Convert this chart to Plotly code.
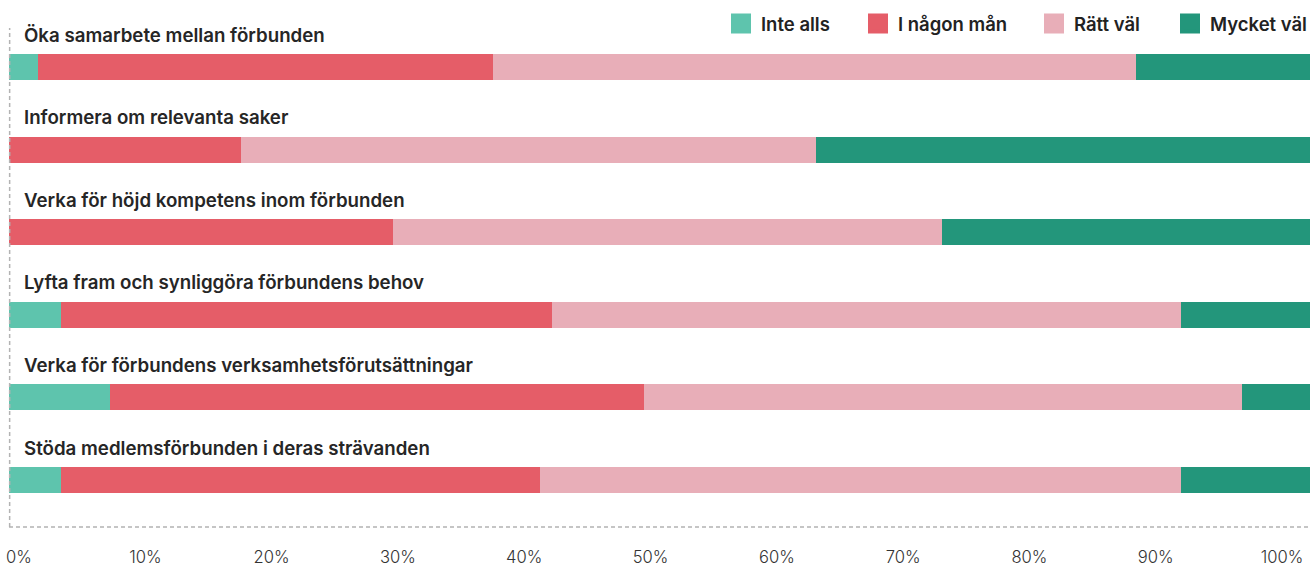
import plotly.graph_objects as go

categories = [
    "Öka samarbete mellan förbunden",
    "Informera om relevanta saker",
    "Verka för höjd kompetens inom förbunden",
    "Lyfta fram och synliggöra förbundens behov",
    "Verka för förbundens verksamhetsförutsättningar",
    "Stöda medlemsförbunden i deras strävanden",
]
inte_alls = [2.2, 0.0, 0.0, 4.0, 7.8, 4.0]
i_nagon_man = [35.0, 17.8, 29.5, 37.7, 41.0, 36.8]
ratt_val = [49.4, 44.2, 42.2, 48.4, 46.0, 49.3]
mycket_val = [13.4, 38.0, 28.3, 9.9, 5.2, 9.9]

series_names = ["Inte alls", "I någon mån", "Rätt väl", "Mycket väl"]
series_values = [inte_alls, i_nagon_man, ratt_val, mycket_val]
series_colors = ["#5EC4AD", "#E55D68", "#E8AEB8", "#23967B"]

tick_values = [0, 10, 20, 30, 40, 50, 60, 70, 80, 90, 100]
tick_labels = [f"{v}%" for v in tick_values]

FONT = "Inter"
W, H = 1311, 566
ML, MR, MT, MB = 9, 1, 28, 39
PW = W - ML - MR
PH = H - MT - MB

# pixel left edge of each legend square in the reference
legend_square_left = [734, 871, 1047, 1183]

fig = go.Figure()
for name, vals, col in zip(series_names, series_values, series_colors):
    fig.add_trace(go.Bar(
        x=vals, y=categories, orientation="h", name=name,
        marker=dict(color=col, line=dict(width=0)),
        width=0.315, showlegend=False,
        hovertemplate="%{y}<br>" + name + ": %{x:.1f}%<extra></extra>",
    ))
# legend entries, one legend each so spacing can follow the reference
legend_layouts = {}
for i, (name, col) in enumerate(zip(series_names, series_colors)):
    lname = "legend" if i == 0 else f"legend{i + 1}"
    fig.add_trace(go.Scatter(
        x=[None], y=[None], mode="markers", name=name, legend=lname,
        marker=dict(symbol="square", size=16, color=col, line=dict(color=col, width=4)),
        showlegend=True,
    ))
    legend_layouts[lname] = dict(
        orientation="h", x=(legend_square_left[i] - 13 - ML) / PW, xanchor="left",
        y=1 + (28 - 24) / PH, yanchor="middle",
        font=dict(family=FONT, size=18.5, color="#222", weight=600),
        itemsizing="trace", bgcolor="rgba(0,0,0,0)", borderwidth=0,
    )
# tick label carrier axis (its own x axis sharing the y axis)
fig.add_trace(go.Scatter(x=[None], y=[None], xaxis="x2", yaxis="y", mode="markers",
                         showlegend=False, hoverinfo="skip"))

# category labels above bars
for c in categories:
    fig.add_annotation(
        xref="paper", yref="y", x=(21.5 - ML) / PW, y=c, xanchor="left", yanchor="middle",
        yshift=32, text=c, showarrow=False,
        font=dict(family=FONT, size=18.7, color="#262626", weight=600),
    )

# dashed axis lines
dash_style = dict(color="#b3b3b3", width=1.5, dash="4px,3px")
fig.add_shape(type="line", xref="paper", yref="paper", x0=0.0005, x1=0.0005, y0=0, y1=1, line=dash_style)
fig.add_shape(type="line", xref="paper", yref="paper", x0=0, x1=1, y0=0, y1=0, line=dash_style)

fig.update_layout(
    width=W, height=H,
    margin=dict(l=ML, r=MR, t=MT, b=MB, pad=0, autoexpand=False),
    barmode="stack", bargap=0,
    paper_bgcolor="white", plot_bgcolor="rgba(0,0,0,0)",
    font=dict(family=FONT, color="#333"),
    xaxis=dict(range=[0, 100], domain=[0, 1], showgrid=False, zeroline=False, showline=False,
               showticklabels=False, ticks="", fixedrange=True, automargin=False),
    xaxis2=dict(range=[0, 100], anchor="y", side="bottom",
                domain=[(19.0 - ML) / PW, (1282.0 - ML) / PW],
                tickvals=tick_values, ticktext=tick_labels,
                showgrid=False, zeroline=False, showline=False, ticks="",
                ticklabelstandoff=18, ticklabeloverflow="allow", automargin=False,
                fixedrange=True,
                tickfont=dict(family=FONT, size=16.6, color="#333", weight=300)),
    yaxis=dict(type="category", categoryorder="array", categoryarray=categories,
               range=[(527 - 67) / 82.6, (28 - 67) / 82.6],
               showgrid=False, zeroline=False, showline=False, automargin=False,
               showticklabels=False, ticks="", fixedrange=True),
    showlegend=True,
    **legend_layouts,
)

fig.write_html(
    "out.html",
    config={"displayModeBar": False},
    post_script="document.body.style.margin='0';document.body.style.padding='0';document.body.style.overflow='hidden';",
)
